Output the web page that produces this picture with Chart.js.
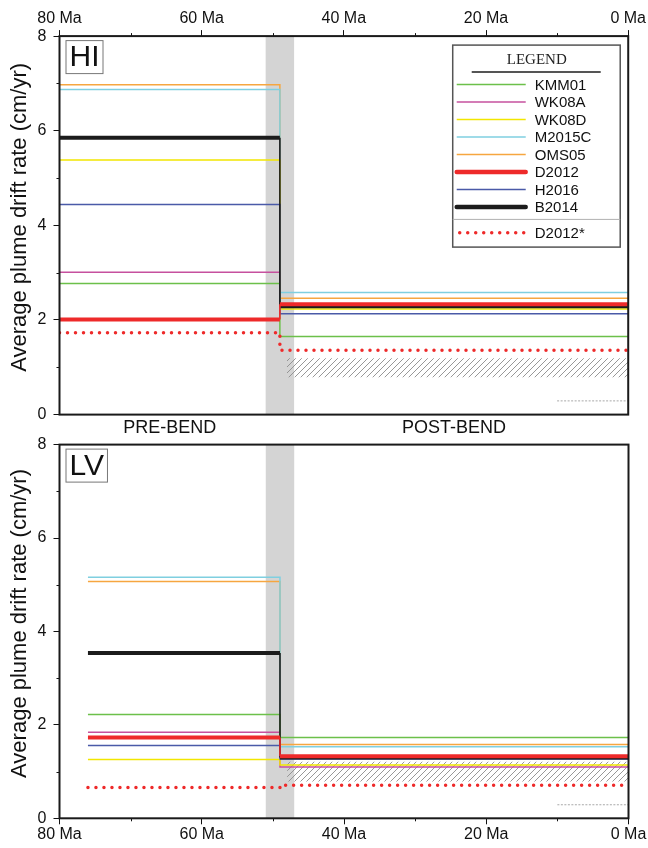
<!DOCTYPE html>
<html>
<head>
<meta charset="utf-8">
<script src="https://cdn.jsdelivr.net/npm/chart.js@4.4.1/dist/chart.umd.min.js"></script>
<style>
  html, body { margin: 0; padding: 0; background: #fff; }
  #wrap { position: relative; width: 648px; height: 848px; overflow: hidden; }
  .panel { position: absolute; left: 0; }
  #hi-wrap { top: 0; }
  #lv-wrap { top: 428px; }
</style>
</head>
<body>
<div id="wrap">
  <div class="panel" id="hi-wrap"><canvas id="hi-chart" width="648" height="440"></canvas></div>
  <div class="panel" id="lv-wrap"><canvas id="lv-chart" width="648" height="420"></canvas></div>
</div>
<script>
(function () {
  'use strict';

  // ── Data ─────────────────────────────────────────────────────────────
  var seriesNames = ['KMM01', 'WK08A', 'WK08D', 'M2015C', 'OMS05', 'D2012', 'H2016', 'B2014'];

  // Hawaii (HI): pre-bend and post-bend average drift rate, cm/yr
  var hiPre  = [2.77, 3.01, 5.38, 6.87, 6.97, 2.01, 4.44, 5.85];
  var hiPost = [1.65, 2.31, 2.23, 2.58, 2.46, 2.33, 2.13, 2.29];
  // Louisville (LV)
  var lvPre  = [2.22, 1.84, 1.26, 5.16, 5.07, 1.73, 1.56, 3.54];
  var lvPost = [1.73, 1.10, 1.14, 1.53, 1.58, 1.33, 1.27, 1.30];

  // D2012* (dotted) pre / post
  var hiStar = [1.73, 1.36];
  var lvStar = [0.66, 0.71];

  // Ages, Ma
  var hiStart = 80;
  var lvStart = 76;
  var bendAge = 49;
  var endAge = 0;
  var bendBand = [51, 47];

  // Hatched range and short dashed reference line
  var hatchAge = [48, 0];
  var hiHatch = [0.79, 1.19];
  var lvHatch = [0.79, 1.21];
  var refAge = [10, 0];
  var refRate = 0.29;

  // Ticks
  var ageTicks = [80, 60, 40, 20, 0];
  var ageMinor = [70, 50, 30, 10];
  var rateTicks = [0, 2, 4, 6, 8];
  var rateMinor = [1, 3, 5, 7];

  var yTitle = 'Average plume drift rate (cm/yr)';

  // ── Styles ───────────────────────────────────────────────────────────
  var seriesColors = ['#6cc04a', '#c6509e', '#f2e600', '#7fcfe0', '#f6a640', '#ee2a2a', '#4a5aa8', '#1c1c1c'];
  var seriesWidths = [1.5, 1.5, 1.5, 1.5, 1.5, 4, 1.5, 4];
  var seriesOrder  = [6, 7, 5, 8, 9, 1, 3, 2];
  var starColor = '#ee2a2a';

  Chart.defaults.font.family = '"Liberation Sans", Arial, Helvetica, sans-serif';
  Chart.defaults.color = '#111';

  function makeHatch(ctx) {
    var c = document.createElement('canvas');
    c.width = 6; c.height = 6;
    var g = c.getContext('2d');
    g.strokeStyle = '#8c8c8c';
    g.lineWidth = 0.9;
    g.beginPath();
    g.moveTo(0, 6); g.lineTo(6, 0);
    g.moveTo(-3, 3); g.lineTo(3, -3);
    g.moveTo(3, 9); g.lineTo(9, 3);
    g.stroke();
    return ctx.createPattern(c, 'repeat');
  }

  // step path: pre value until the bend, thin vertical drop, post value to 0 Ma
  function stepPoints(start, pre, post) {
    return [
      { x: start, y: pre }, { x: bendAge, y: pre },
      { x: bendAge, y: post }, { x: endAge, y: post }
    ];
  }

  function buildDatasets(pre, post, start, star, hatch, pattern) {
    var ds = [];
    seriesNames.forEach(function (name, i) {
      var w = seriesWidths[i];
      ds.push({
        label: name,
        data: stepPoints(start, pre[i], post[i]),
        borderColor: seriesColors[i],
        borderWidth: w,
        segment: {
          borderWidth: function (c) { return c.p0DataIndex === 1 ? Math.min(w, 1.6) : w; }
        },
        order: seriesOrder[i]
      });
    });
    ds.push({
      label: 'D2012*',
      data: stepPoints(start, star[0], star[1]),
      borderColor: starColor,
      borderWidth: 3.5,
      borderDash: [0, 8],
      borderCapStyle: 'round',
      order: 0
    });
    ds.push({
      label: 'hatch',
      data: [{ x: hatchAge[0], y: hatch[1] }, { x: hatchAge[1], y: hatch[1] }],
      borderColor: 'transparent',
      borderWidth: 0,
      backgroundColor: pattern,
      fill: { value: hatch[0] },
      order: 20
    });
    ds.push({
      label: 'ref',
      data: [{ x: refAge[0], y: refRate }, { x: refAge[1], y: refRate }],
      borderColor: '#a8a8a8',
      borderWidth: 1,
      borderDash: [2, 1.5],
      order: 19
    });
    return ds;
  }

  // ── Decorations: bend band, frame, minor ticks, labels, legend ───────
  var panelDeco = {
    id: 'panelDeco',
    beforeDatasetsDraw: function (chart) {
      var ctx = chart.ctx, a = chart.chartArea, xs = chart.scales.x;
      var x0 = xs.getPixelForValue(bendBand[0]);
      var x1 = xs.getPixelForValue(bendBand[1]);
      ctx.save();
      ctx.fillStyle = '#d4d4d4';
      ctx.fillRect(Math.min(x0, x1), a.top, Math.abs(x1 - x0), a.bottom - a.top);
      ctx.restore();
    },
    afterDraw: function (chart, args, opts) {
      var ctx = chart.ctx, a = chart.chartArea;
      var xs = chart.scales.x, ys = chart.scales.y;
      ctx.save();

      // minor ticks
      ctx.strokeStyle = '#111';
      ctx.lineWidth = 1;
      ctx.beginPath();
      rateMinor.forEach(function (v) {
        var py = Math.round(ys.getPixelForValue(v)) + 0.5;
        ctx.moveTo(a.left - 3, py); ctx.lineTo(a.left, py);
      });
      ageMinor.forEach(function (v) {
        var px = Math.round(xs.getPixelForValue(v)) + 0.5;
        if (opts.axisTop) { ctx.moveTo(px, a.top - 3); ctx.lineTo(px, a.top); }
        else { ctx.moveTo(px, a.bottom); ctx.lineTo(px, a.bottom + 3); }
      });
      ctx.stroke();

      // frame
      ctx.lineWidth = 2;
      ctx.strokeStyle = '#1a1a1a';
      ctx.strokeRect(a.left, a.top, a.right - a.left, a.bottom - a.top);

      // y axis title (sits a little above the panel centre)
      ctx.save();
      ctx.translate(20, (a.top + a.bottom) / 2 - 8);
      ctx.rotate(-Math.PI / 2);
      ctx.font = '22px "Liberation Sans", Arial, sans-serif';
      ctx.fillStyle = '#111';
      ctx.textAlign = 'center';
      ctx.textBaseline = 'middle';
      ctx.fillText(yTitle, 0, 0);
      ctx.restore();

      // panel tag (HI / LV)
      ctx.font = '30px "Liberation Sans", Arial, sans-serif';
      var tw = ctx.measureText(opts.tag).width;
      ctx.lineWidth = 1;
      ctx.strokeStyle = '#777';
      ctx.strokeRect(a.left + 6.5, a.top + 4.5, tw + 7, 33);
      ctx.fillStyle = '#111';
      ctx.textBaseline = 'middle';
      ctx.textAlign = 'left';
      ctx.fillText(opts.tag, a.left + 10, a.top + 22);

      if (opts.bendLabels) {
        ctx.font = '18px "Liberation Sans", Arial, sans-serif';
        ctx.textAlign = 'center';
        ctx.fillText('PRE-BEND', xs.getPixelForValue((hiStart + bendAge) / 2), a.bottom + 13);
        ctx.fillText('POST-BEND', xs.getPixelForValue((bendAge + endAge) / 2), a.bottom + 13);
      }

      if (opts.legend) drawLegend(ctx, a);
      ctx.restore();
    }
  };

  function drawLegend(ctx, a) {
    var bx = a.right - 175.5, by = a.top + 9, bw = 167.5, bh = 202;
    ctx.fillStyle = '#fff';
    ctx.fillRect(bx, by, bw, bh);
    ctx.lineWidth = 1.5;
    ctx.strokeStyle = '#555';
    ctx.strokeRect(bx, by, bw, bh);

    ctx.fillStyle = '#222';
    ctx.font = '15px "Liberation Serif", "Times New Roman", serif';
    ctx.textAlign = 'center';
    ctx.textBaseline = 'middle';
    ctx.fillText('LEGEND', bx + 84, by + 15);
    ctx.lineWidth = 2;
    ctx.beginPath();
    ctx.moveTo(bx + 19, by + 27); ctx.lineTo(bx + 148, by + 27);
    ctx.stroke();

    ctx.font = '15px "Liberation Sans", Arial, sans-serif';
    ctx.textAlign = 'left';
    var y0 = by + 39.3, step = 17.5;
    seriesNames.forEach(function (name, i) {
      var y = y0 + i * step;
      ctx.strokeStyle = seriesColors[i];
      ctx.lineWidth = seriesWidths[i] > 2 ? 4.5 : 1.5;
      ctx.lineCap = seriesWidths[i] > 2 ? 'round' : 'butt';
      ctx.beginPath();
      ctx.moveTo(bx + 4, y); ctx.lineTo(bx + 73, y);
      ctx.stroke();
      ctx.fillStyle = '#111';
      ctx.fillText(name, bx + 82, y + 1);
    });

    var sy = by + 174.3;
    ctx.lineCap = 'butt';
    ctx.lineWidth = 1;
    ctx.strokeStyle = '#b0b0b0';
    ctx.beginPath();
    ctx.moveTo(bx, sy); ctx.lineTo(bx + bw, sy);
    ctx.stroke();

    var dy = by + 187.7;
    ctx.strokeStyle = starColor;
    ctx.lineWidth = 3.5;
    ctx.lineCap = 'round';
    ctx.setLineDash([0, 8]);
    ctx.beginPath();
    ctx.moveTo(bx + 7, dy); ctx.lineTo(bx + 73, dy);
    ctx.stroke();
    ctx.setLineDash([]);
    ctx.fillStyle = '#111';
    ctx.fillText('D2012*', bx + 82, dy + 1);
  }

  // ── Chart factory ────────────────────────────────────────────────────
  function makeChart(canvasId, cfg) {
    var canvas = document.getElementById(canvasId);
    var ctx = canvas.getContext('2d');
    var pattern = makeHatch(ctx);

    return new Chart(ctx, {
      type: 'line',
      data: { datasets: buildDatasets(cfg.pre, cfg.post, cfg.start, cfg.star, cfg.hatch, pattern) },
      plugins: [panelDeco],
      options: {
        responsive: false,
        animation: false,
        events: [],
        layout: { padding: cfg.padding },
        elements: {
          point: { radius: 0 },
          line: { tension: 0, fill: false }
        },
        plugins: {
          legend: { display: false },
          tooltip: { enabled: false },
          panelDeco: { tag: cfg.tag, legend: cfg.legend, bendLabels: cfg.legend, axisTop: cfg.axisTop }
        },
        scales: {
          x: {
            type: 'linear',
            position: cfg.axisTop ? 'top' : 'bottom',
            reverse: true,
            min: 0,
            max: 80,
            afterBuildTicks: function (s) { s.ticks = ageTicks.map(function (v) { return { value: v }; }); },
            afterFit: function (s) { s.height = cfg.xHeight; },
            border: { display: false },
            grid: { drawOnChartArea: false, drawTicks: true, tickLength: 6, color: '#111' },
            ticks: {
              padding: cfg.axisTop ? 2 : 1,
              maxRotation: 0,
              autoSkip: false,
              font: { size: 16 },
              callback: function (v) { return v + ' Ma'; }
            }
          },
          y: {
            type: 'linear',
            min: 0,
            max: 8,
            afterBuildTicks: function (s) { s.ticks = rateTicks.map(function (v) { return { value: v }; }); },
            afterFit: function (s) { s.width = 59.5; },
            border: { display: false },
            grid: { drawOnChartArea: false, drawTicks: true, tickLength: 6, color: '#111' },
            ticks: { padding: 7, font: { size: 16 } }
          }
        }
      }
    });
  }

  makeChart('hi-chart', {
    tag: 'HI', pre: hiPre, post: hiPost, start: hiStart, star: hiStar, hatch: hiHatch,
    legend: true, axisTop: true, xHeight: 36.1,
    padding: { left: 0, right: 17, top: 0, bottom: 25.4 }
  });

  makeChart('lv-chart', {
    tag: 'LV', pre: lvPre, post: lvPost, start: lvStart, star: lvStar, hatch: lvHatch,
    legend: false, axisTop: false, xHeight: 29.7,
    padding: { left: 0, right: 19.5, top: 10.3, bottom: 0 }
  });
})();
</script>
</body>
</html>
